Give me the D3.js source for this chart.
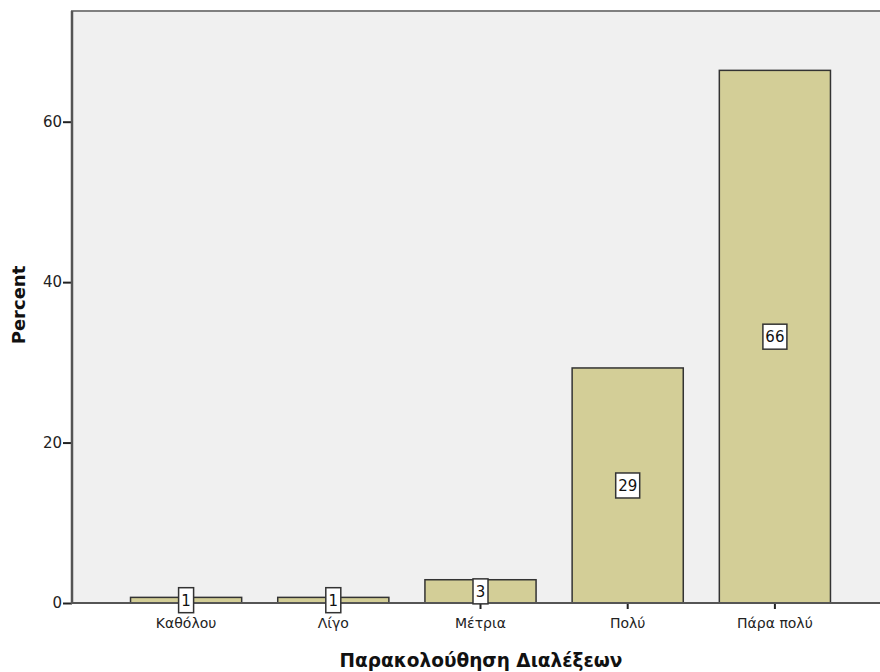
<!DOCTYPE html>
<html>
<head>
<meta charset="utf-8">
<script src="https://cdn.jsdelivr.net/npm/d3@7"></script>
<style>
  body { margin: 0; background: #fff; }
  text { font-family: "DejaVu Sans", Verdana, sans-serif; }
</style>
</head>
<body>
<div id="chart"></div>
<script>
var width = 880,
    height = 672;

// data
var categories = ["Καθόλου", "Λίγο", "Μέτρια", "Πολύ", "Πάρα πολύ"];
var percents = [0.7, 0.7, 2.9, 29.3, 66.4];
var barLabels = ["1", "1", "3", "29", "66"];
var yTicks = [0, 20, 40, 60];

var plot = {left: 72, top: 11, right: 882, bottom: 603};
var font = "DejaVu Sans, Verdana, sans-serif";

var svg = d3.select("#chart")
  .append("svg")
    .attr("width", width)
    .attr("height", height);

// plot background
svg.append("rect")
  .attr("x", plot.left)
  .attr("y", plot.top)
  .attr("width", plot.right - plot.left)
  .attr("height", plot.bottom - plot.top)
  .attr("fill", "#f0f0f0")
  .attr("stroke", "#808080")
  .attr("stroke-width", 2);

var x = d3.scaleBand()
  .domain(categories)
  .range([112.5, 848.5])
  .paddingInner(0.245)
  .paddingOuter(0.1225);

var y = d3.scaleLinear()
  .domain([0, 73.8])
  .range([plot.bottom, plot.top]);

// bars
svg.selectAll("rect.bar")
  .data(categories)
  .enter()
  .append("rect")
    .attr("class", "bar")
    .attr("x", function(d) { return x(d); })
    .attr("y", function(d, i) { return y(percents[i]); })
    .attr("width", x.bandwidth())
    .attr("height", function(d, i) { return y(0) - y(percents[i]); })
    .attr("fill", "#d3ce97")
    .attr("stroke", "#333")
    .attr("stroke-width", 1.5);

// y axis
var yAxis = svg.append("g")
  .attr("transform", "translate(" + plot.left + ",0)")
  .call(d3.axisLeft(y).tickValues(yTicks).tickSize(9).tickPadding(1));
yAxis.select(".domain").remove();
yAxis.selectAll("line").attr("stroke", "#222").attr("stroke-width", 2);
yAxis.selectAll("text").attr("font-size", 15).attr("fill", "#222")
  .attr("font-family", font);

svg.append("line")
  .attr("x1", plot.left).attr("x2", plot.left)
  .attr("y1", plot.top).attr("y2", plot.bottom + 1)
  .attr("stroke", "#555").attr("stroke-width", 2.5);

// x axis
var xAxis = svg.append("g")
  .attr("transform", "translate(0," + plot.bottom + ")")
  .call(d3.axisBottom(x).tickSize(6).tickPadding(9));
xAxis.select(".domain").remove();
xAxis.selectAll("line").attr("stroke", "#222").attr("stroke-width", 2);
xAxis.selectAll("text").attr("font-size", 14).attr("fill", "#222")
  .attr("font-family", font);

svg.append("line")
  .attr("x1", plot.left - 1).attr("x2", plot.right)
  .attr("y1", plot.bottom).attr("y2", plot.bottom)
  .attr("stroke", "#555").attr("stroke-width", 2);

// value boxes in the middle of each bar
var labels = svg.selectAll("g.lab")
  .data(categories)
  .enter()
  .append("g")
    .attr("class", "lab")
    .attr("transform", function(d, i) {
      return "translate(" + (x(d) + x.bandwidth() / 2) + "," + y(percents[i] / 2) + ")";
    });

labels.append("rect")
  .attr("x", function(d, i) { return barLabels[i].length > 1 ? -12 : -7.5; })
  .attr("y", -12.5)
  .attr("width", function(d, i) { return barLabels[i].length > 1 ? 24 : 15; })
  .attr("height", 25)
  .attr("fill", "#fff")
  .attr("stroke", "#333")
  .attr("stroke-width", 1.5);

labels.append("text")
  .attr("text-anchor", "middle")
  .attr("dy", "0.36em")
  .attr("font-size", 15)
  .attr("fill", "#111")
  .text(function(d, i) { return barLabels[i]; });

// axis titles
svg.append("text")
  .attr("x", 481)
  .attr("y", 667)
  .attr("text-anchor", "middle")
  .attr("font-size", 18.5)
  .attr("font-weight", "bold")
  .attr("fill", "#111")
  .text("Παρακολούθηση Διαλέξεων");

svg.append("text")
  .attr("transform", "translate(25,305) rotate(-90)")
  .attr("text-anchor", "middle")
  .attr("font-size", 18)
  .attr("font-weight", "bold")
  .attr("fill", "#111")
  .text("Percent");
</script>
</body>
</html>
